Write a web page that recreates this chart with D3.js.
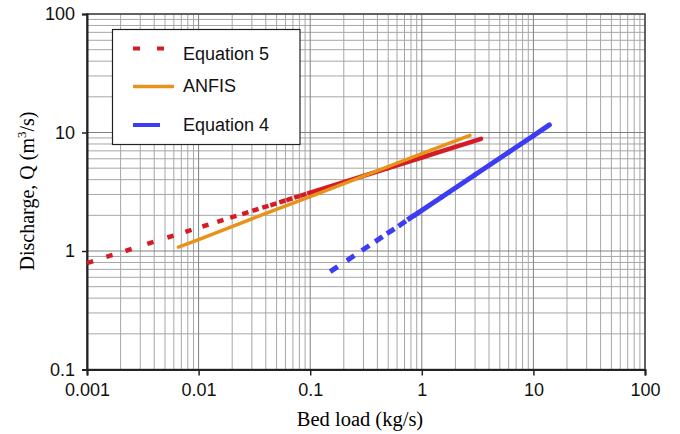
<!DOCTYPE html>
<html>
<head>
<meta charset="utf-8">
<script src="https://cdn.jsdelivr.net/npm/d3@7"></script>
<style>
  body { margin: 0; background: #fff; }
  svg { display: block; }
</style>
</head>
<body>
<svg></svg>
<script>
// valeurs
const xTicks = [0.001, 0.01, 0.1, 1, 10, 100];
const xTickLabels = ["0.001", "0.01", "0.1", "1", "10", "100"];
const yTicks = [0.1, 1, 10, 100];
const yTickLabels = ["0.1", "1", "10", "100"];

const eq5Load = [0.001, 0.00149, 0.00221, 0.00347, 0.00525, 0.00761, 0.0108, 0.0147, 0.0192, 0.0246, 0.0303, 0.0372, 0.0439, 0.0528, 0.0609, 0.0719, 0.0813, 0.094, 0.1, 0.2, 0.5, 1, 2, 3.4];
const eq5Q = [0.79, 0.893, 1.00, 1.15, 1.30, 1.45, 1.61, 1.76, 1.91, 2.05, 2.18, 2.32, 2.43, 2.57, 2.68, 2.82, 2.92, 3.05, 3.11, 3.82, 5.01, 6.15, 7.56, 8.85];

const anfisLoad = [0.0066, 0.01, 0.03, 0.1, 0.3, 1, 2.7];
const anfisQ = [1.08, 1.25, 1.87, 2.88, 4.29, 6.62, 9.47];

const eq4Load = [0.151, 0.213, 0.29, 0.382, 0.486, 0.618, 0.743, 0.871, 1.5, 3, 6, 10, 13.9];
const eq4Q = [0.67, 0.83, 1.01, 1.20, 1.40, 1.62, 1.83, 2.02, 2.84, 4.40, 6.81, 9.39, 11.6];

const legendNames = ["Equation 5", "ANFIS", "Equation 4"];

const width = 680;
const height = 434;
const svg = d3.select("svg").attr("width", width).attr("height", height);

const pLeft = 87, pRight = 645, pTop = 14, pBottom = 369.5;

const x = d3.scaleLog().domain([0.001, 100]).range([pLeft, pRight]);
const y = d3.scaleLog().domain([0.1, 100]).range([pBottom, pTop]);

// grille (mineure + majeure)
const minorX = [];
for (let d = 0.001; d < 100; d *= 10) for (let k = 2; k <= 9; k++) minorX.push(d * k);
const minorY = [];
for (let d = 0.1; d < 100; d *= 10) for (let k = 2; k <= 9; k++) minorY.push(d * k);

const grid = svg.append("g");
grid.selectAll(".gx").data(minorX).enter().append("line")
    .attr("x1", d => x(d)).attr("x2", d => x(d))
    .attr("y1", pTop).attr("y2", pBottom)
    .attr("stroke", "#a6a6a6").attr("stroke-width", 1);
grid.selectAll(".gy").data(minorY).enter().append("line")
    .attr("y1", d => y(d)).attr("y2", d => y(d))
    .attr("x1", pLeft).attr("x2", pRight)
    .attr("stroke", "#a6a6a6").attr("stroke-width", 1);
grid.selectAll(".Gx").data(xTicks).enter().append("line")
    .attr("x1", d => x(d)).attr("x2", d => x(d))
    .attr("y1", pTop).attr("y2", pBottom)
    .attr("stroke", "#808080").attr("stroke-width", 1);
grid.selectAll(".Gy").data(yTicks).enter().append("line")
    .attr("y1", d => y(d)).attr("y2", d => y(d))
    .attr("x1", pLeft).attr("x2", pRight)
    .attr("stroke", "#808080").attr("stroke-width", 1);

// cadre
svg.append("rect")
    .attr("x", pLeft).attr("y", pTop)
    .attr("width", pRight - pLeft).attr("height", pBottom - pTop)
    .attr("fill", "none").attr("stroke", "#444").attr("stroke-width", 1.5);

// axes
const xAxis = svg.append("g")
    .attr("transform", `translate(0,${pBottom})`)
    .call(d3.axisBottom(x).tickValues(xTicks).tickFormat((d, i) => xTickLabels[i]).tickSize(6).tickPadding(8));
const yAxis = svg.append("g")
    .attr("transform", `translate(${pLeft},0)`)
    .call(d3.axisLeft(y).tickValues(yTicks).tickFormat((d, i) => yTickLabels[i]).tickSize(5).tickPadding(7));

[xAxis, yAxis].forEach(a => {
    a.select(".domain").attr("stroke", "#222").attr("stroke-width", 2);
    a.selectAll(".tick line").attr("stroke", "#222").attr("stroke-width", 1.5);
    a.selectAll(".tick text")
        .attr("fill", "#111")
        .style("font-family", "'Liberation Sans', Arial, sans-serif")
        .style("font-size", "18px");
});

// titres
svg.append("text")
    .attr("x", 360).attr("y", 425.5)
    .attr("text-anchor", "middle")
    .style("font-family", "'Liberation Serif', 'Times New Roman', serif")
    .style("font-size", "20.5px")
    .text("Bed load (kg/s)");

const yTitle = svg.append("text")
    .attr("transform", "translate(34,191) rotate(-90)")
    .attr("text-anchor", "middle")
    .style("font-family", "'Liberation Serif', 'Times New Roman', serif")
    .style("font-size", "20px");
yTitle.append("tspan").text("Discharge, Q (m");
yTitle.append("tspan").attr("dy", -8).style("font-size", "13px").text("3");
yTitle.append("tspan").attr("dy", 8).text("/s)");

// séries
const series = [
    { name: legendNames[0], load: eq5Load, q: eq5Q, color: "#d41c24", width: 4.5, dash: 6.5, solidFrom: 0.1 },
    { name: legendNames[1], load: anfisLoad, q: anfisQ, color: "#e8921a", width: 3.5, dash: null, solidFrom: 0 },
    { name: legendNames[2], load: eq4Load, q: eq4Q, color: "#3c3cf5", width: 5, dash: 9, solidFrom: 0.87 }
];

const line = d3.line().x(d => x(d[0])).y(d => y(d[1]));

series.forEach(s => {
    const pts = s.load.map((v, i) => [v, s.q[i]]);
    const g = svg.append("g");
    const segs = d3.pairs(pts);
    // un tiret au début de chaque segment, trait plein dans la partie dense
    const dashed = d => s.dash && d[0][0] < s.solidFrom;
    g.selectAll("path").data(segs).enter().append("path")
        .attr("d", d => line(d))
        .attr("fill", "none")
        .attr("stroke", s.color)
        .attr("stroke-width", s.width)
        .attr("stroke-linecap", d => dashed(d) ? "butt" : "round")
        .attr("stroke-dasharray", d => dashed(d) ? `${s.dash},1000` : null);
});

// légende
const legend = svg.append("g");
legend.append("rect")
    .attr("x", 112.5).attr("y", 29.5)
    .attr("width", 187.5).attr("height", 115)
    .attr("fill", "#fff").attr("stroke", "#222").attr("stroke-width", 1.2);

const legendY = [48.5, 86.5, 125];
const legendTextY = [60, 92, 131];
const legendX2 = [164, 174, 160];
series.forEach((s, i) => {
    legend.append("line")
        .attr("x1", 133).attr("x2", legendX2[i])
        .attr("y1", legendY[i]).attr("y2", legendY[i])
        .attr("stroke", s.color)
        .attr("stroke-width", i === 1 ? 3.5 : 4)
        .attr("stroke-dasharray", i === 0 ? "7,17" : null);
    legend.append("text")
        .attr("x", 183).attr("y", legendTextY[i])
        .style("font-family", "'Liberation Sans', Arial, sans-serif")
        .style("font-size", "18px")
        .attr("fill", "#111")
        .text(s.name);
});
</script>
</body>
</html>
